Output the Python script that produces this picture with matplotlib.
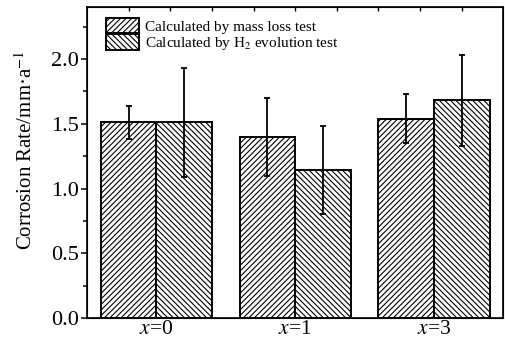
import matplotlib.pyplot as plt
import numpy as np

plt.rcParams['font.family'] = ['Liberation Serif', 'DejaVu Serif']
plt.rcParams['mathtext.fontset'] = 'stix'
plt.rcParams['hatch.linewidth'] = 0.8

# data
groups = ['$x$=0', '$x$=1', '$x$=3']
mass_loss = [1.51, 1.40, 1.54]
mass_loss_err = [0.125, 0.30, 0.19]
h2_evol = [1.51, 1.14, 1.68]
h2_evol_err = [0.42, 0.34, 0.35]

fig = plt.figure(figsize=(5.05, 3.41), dpi=100)
ax = fig.add_axes([0.172, 0.067, 0.825, 0.912])

x = np.arange(len(groups))
w = 0.4
err_kw = dict(ecolor='black', elinewidth=1.3, capsize=2.5, capthick=1.3)
ax.bar(x - w / 2, mass_loss, w, yerr=mass_loss_err, color='white', edgecolor='black',
       linewidth=1.4, hatch='//////', label='Calculated by mass loss test', error_kw=err_kw)
ax.bar(x + w / 2, h2_evol, w, yerr=h2_evol_err, color='white', edgecolor='black',
       linewidth=1.4, hatch='\\\\\\\\\\\\', label='Calculated by H$_2$ evolution test',
       error_kw=err_kw)

ax.set_xlim(-0.5, 2.5)
ax.set_ylim(0, 2.4)
ax.set_xticks(x)
ax.set_xticklabels(groups, fontsize=15.5)
ax.set_yticks([0.0, 0.5, 1.0, 1.5, 2.0])
ax.set_yticklabels(['0.0', '0.5', '1.0', '1.5', '2.0'], fontsize=16)
ax.set_yticks(np.arange(0.25, 2.4, 0.5), minor=True)
ax.tick_params(axis='x', length=0, pad=1)
ax.tick_params(axis='y', which='major', direction='out', length=4, width=1.1, pad=1.5)
ax.tick_params(axis='y', which='minor', direction='out', length=3, width=1.1)
ax.set_ylabel('Corrosion Rate/mm·a$^{-1}$', fontsize=15)
ax.yaxis.set_label_coords(-0.12, 0.54)
for s in ax.spines.values():
    s.set_linewidth(1.2)

# ticks on top edge
top = ax.twiny()
top.set_xlim(ax.get_xlim())
top.set_xticks(np.arange(-0.2, 2.45, 0.3))
top.tick_params(axis='x', direction='in', length=3, width=1.0, labeltop=False)

ax.legend(loc='upper left', bbox_to_anchor=(0.02, 1.0), frameon=False, fontsize=11,
          handlelength=2.2, handleheight=1.15, labelspacing=0.05, handletextpad=0.35,
          borderaxespad=0.3)

fig.savefig('out.png', dpi=100)
